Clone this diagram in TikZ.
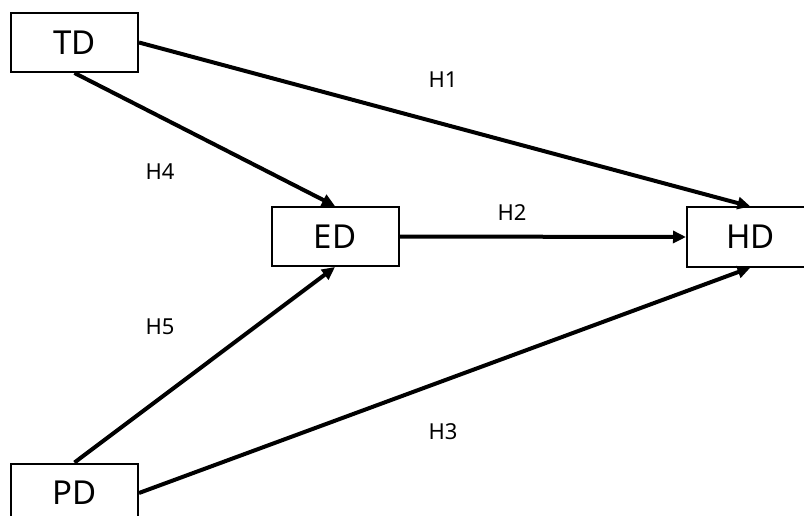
\documentclass[tikz,border=0pt]{standalone}
\usepackage{fontspec}
\setmainfont{Noto Sans}
\usetikzlibrary{arrows.meta}
\begin{document}
\begin{tikzpicture}[x=1pt,y=-1pt,
  box/.style={draw,line width=2pt,minimum width=127pt,minimum height=59pt,inner sep=0pt,font=\fontsize{33}{36}\selectfont},
  lab/.style={font=\fontsize{22}{24}\selectfont,inner sep=0pt},
  conn/.style={line width=4pt,-{Triangle[length=13pt,width=12pt]}}]
\useasboundingbox (0,0) rectangle (804,516);
\node[box] (TD) at (74.5,42.5) {TD};
\node[box] (ED) at (335,236.5) {ED};
\node[box] (HD) at (750.5,237) {HD};
\node[box] (PD) at (74.5,493) {PD};
\draw[conn] (TD.east) -- (HD.north);
\draw[conn] (TD.south) -- (ED.north);
\draw[conn] (ED.east) -- (HD.west);
\draw[conn] (PD.north) -- (ED.south);
\draw[conn] (PD.east) -- (HD.south);
\node[lab] (h1) at (443,80) {H1};
\node[lab] (h4) at (160,172) {H4};
\node[lab] (h2) at (512,213) {H2};
\node[lab] (h5) at (160,327) {H5};
\node[lab] (h3) at (443,432) {H3};
\end{tikzpicture}
\end{document}
